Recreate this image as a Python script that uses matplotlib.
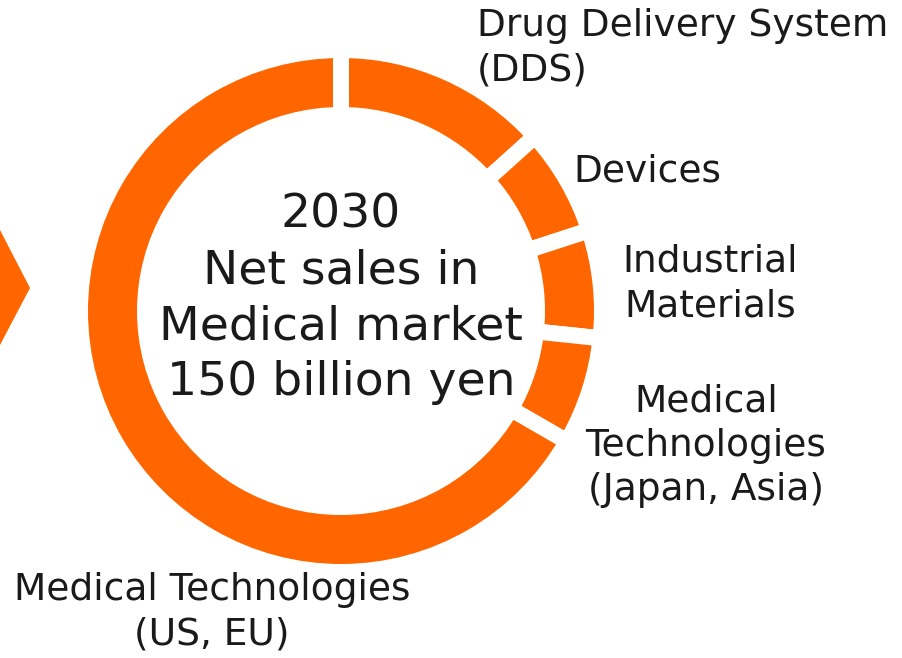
import matplotlib
matplotlib.use('Agg')
import matplotlib.pyplot as plt
from matplotlib.patches import Polygon

# ── Data: 2030 net sales breakdown, Medical market (billion yen) ─────────────

segments = [
    "Drug Delivery System\n(DDS)",
    "Devices",
    "Industrial\nMaterials",
    "Medical\nTechnologies\n(Japan, Asia)",
    "Medical Technologies\n(US, EU)",
]
sales = [20, 10, 10, 10, 100]
center_title = "2030\nNet sales in\nMedical market\n150 billion yen"

ORANGE = '#FF6600'
TEXT = '#1a1a1a'

W, H = 902, 658


def py(y):
    # pixel row (top = 0) -> data y
    return H - y


fig = plt.figure(figsize=(W / 100, H / 100), dpi=100)
ax = fig.add_axes([0, 0, 1, 1])

# Donut ring; the thick white edge gives the gaps between segments
gap_px = 16
ax.pie(sales, colors=[ORANGE] * len(sales), startangle=90, counterclock=False,
       center=(341, py(311)), radius=253 + gap_px / 2,
       wedgeprops=dict(width=49 + gap_px, edgecolor='white',
                       linewidth=gap_px * 72 / 100, joinstyle='miter'))

# Arrow tip coming in from the left
ax.add_patch(Polygon([(0, py(230)), (30, py(288)), (0, py(345))],
                     closed=True, facecolor=ORANGE, edgecolor='none'))

# Centre caption
ax.text(341, py(299), center_title, ha='center', va='center',
        multialignment='center', fontsize=34, color=TEXT, linespacing=1.31)

# Segment labels
label_pos = [
    (477, 48, 'left'),
    (573, 172, 'left'),
    (710, 284, 'center'),
    (706, 446, 'center'),
    (212, 612, 'center'),
]
for text, (x, y, ha) in zip(segments, label_pos):
    ax.text(x, py(y), text, ha=ha, va='center', multialignment=ha,
            fontsize=27, color=TEXT, linespacing=1.3)

ax.set_xlim(0, W)
ax.set_ylim(0, H)
ax.set_aspect('equal')
ax.axis('off')

plt.savefig('out.png', dpi=100, facecolor='white')
plt.close()
